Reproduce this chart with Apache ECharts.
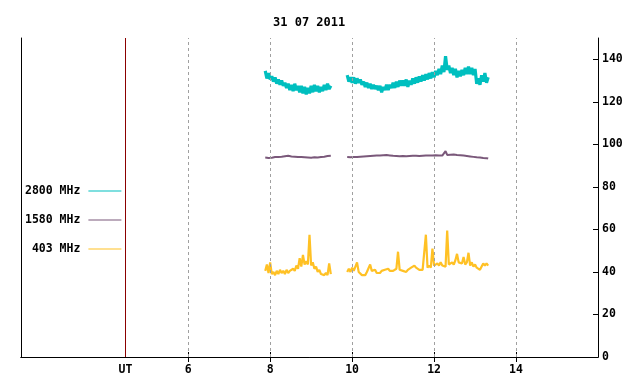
<!DOCTYPE html>
<html>
<head>
<meta charset="utf-8">
<script src="https://cdn.jsdelivr.net/npm/echarts@6/dist/echarts.min.js"></script>
<style>html,body{margin:0;padding:0;background:#fff}#c{width:640px;height:384px}</style>
</head>
<body>
<div id="c"></div>
<script>
// ---- data ----
const titleText = '31 07 2011';
const seriesNames = ['2800 MHz', '1580 MHz', '403 MHz'];
const xTicks = [6, 8, 10, 12, 14];
const yTicks = [0, 20, 40, 60, 80, 100, 120, 140];
const utPosition = 4.47;
const xMin = 1.92, xMax = 16, yMin = 0, yMax = 150;
// sampling: segment 1 starts 7.88 h, segment 2 starts 9.88 h, 0.04 h steps
const seg1Start = 7.88, seg2Start = 9.88, sampleStep = 0.04;

const cyan1 = [134.5,131,133.5,130.5,132,129.5,131.5,128.5,130.5,128,130,127.5,129,126.5,128.5,125.5,128,125,128.5,125.5,127.5,124.5,127.5,124,127,123.5,126.5,124,127.5,124.5,128,125,127.5,124.5,127,125,128,125.5,128.5,126,127.5];
const cyan2 = [132.5,129.5,131.5,129,131.5,128.5,131,129,130.5,128,129.5,127,129,126.5,128.5,126,128,126,127.5,125.5,127.5,124.5,127,125.5,128,125.5,128,126.5,129,126.5,129.5,127,130,127.5,130,127.5,130.5,127,130,128,131,128.5,131.5,129,132,129.5,132.5,130,133,130.5,133.5,131,134,131.5,134.5,132.5,135.5,133,137,134,141.5,135,137,133.5,136,132.5,135.5,131.5,134.5,132,135,132.5,136,133,136.5,133,136,132.5,135.5,128.5,131,128,132.5,129.5,133.5,129,131.5];

const purple1 = [93.8,93.2,93.6,93.0,93.7,93.3,94.0,93.5,94.1,93.6,94.2,93.8,94.4,93.9,94.6,94.0,94.3,93.8,94.2,93.6,94.1,93.5,94.0,93.4,93.9,93.3,93.8,93.2,93.7,93.4,93.9,93.3,93.8,93.5,94.0,93.6,94.2,93.8,94.5,94.0,94.6];
const purple2 = [94.0,94.3,93.9,94.4,94.0,94.5,94.1,94.6,94.2,94.7,94.3,94.8,94.4,94.9,94.5,95.0,94.6,95.1,94.7,95.3,94.8,95.4,94.9,95.5,95.0,95.3,94.8,95.1,94.6,95.0,94.5,94.9,94.4,94.8,94.5,94.9,94.4,94.8,94.5,94.9,94.6,95.0,94.6,95.0,94.5,94.9,94.6,95.0,94.7,95.1,94.8,95.2,94.8,95.1,94.9,95.2,94.8,95.1,94.7,95.0,96.8,95.0,94.7,95.1,94.8,95.2,94.7,95.0,94.5,94.9,94.3,94.7,94.1,94.5,93.9,94.3,93.7,94.1,93.5,93.9,93.4,93.8,93.2,93.6,93.1,93.5,93.3];

const orange1 = [40.5,43.5,39.5,44.5,39,40,38.5,40.5,39,41,39.5,40.5,39,41,39.5,40.5,40,41.5,40.5,43,41.5,46.5,42.5,48,43.5,45,43.5,57.5,43,44.5,41.5,42.5,40,41,39,39.5,38.5,39.5,38.5,44,39];
const orange2 = [40,41.5,40,42,40.5,42.5,44.5,40,39.5,38.5,39,38.5,40,39.5,43.5,40.5,40,41,39.5,40,39.5,40.5,40,41,40.5,41.5,40.5,41,40.5,41,41.5,49.5,41,41.5,40.5,41,40,41,40.5,42,41.5,43,42,42.5,41,40.5,41,40.5,57.5,42,43,42,51,43,42.5,44,43,44.5,43,43.5,42.5,59.5,43.5,43,44.5,43.5,45.5,48.5,44.5,45,44,47,43.5,44.5,49,43,44.5,42.5,43.5,42,41.5,41,42.5,44,43,44,43];

const colors = ['#00bfbf', '#7a587a', '#ffc125'];
const widths = [3.2, 2, 2.2];

// ---- build ----
function build(a, b) {
  const out = [];
  a.forEach((v, i) => out.push([seg1Start + i * sampleStep, v]));
  out.push([(seg1Start + a.length * sampleStep + seg2Start) / 2, '-']);
  b.forEach((v, i) => out.push([seg2Start + i * sampleStep, v]));
  return out;
}
const font = 'DejaVu Sans Mono';
const txt = { fontFamily: font, fontWeight: 'bold', fontSize: 11.5, color: '#000' };

const chart = echarts.init(document.getElementById('c'), null, { renderer: 'canvas' });
const seriesData = [build(cyan1, cyan2), build(purple1, purple2), build(orange1, orange2)];

const series = seriesNames.map((n, k) => ({
  name: n, type: 'line', data: seriesData[k], symbol: 'none', showSymbol: false,
  connectNulls: false, animation: false, yAxisIndex: 0,
  lineStyle: { color: colors[k], width: widths[k], join: 'bevel' }, itemStyle: { color: colors[k] },
  z: 3
}));
series.push({
  type: 'line', data: [], yAxisIndex: 0, silent: true, animation: false,
  markLine: {
    silent: true, symbol: 'none', animation: false, label: { show: false },
    data: xTicks.map(t => ({ xAxis: t, lineStyle: { color: '#a0a0a0', type: [3, 3], width: 1 } }))
      .concat([{ xAxis: utPosition, lineStyle: { color: '#8b0000', type: 'solid', width: 1 } }])
  }
});

chart.setOption({
  animation: false,
  backgroundColor: '#fff',
  title: { text: titleText, left: 268, top: 12, textStyle: Object.assign({}, txt, { fontSize: 12 }) },
  legend: {
    data: seriesNames, orient: 'vertical', left: 20, top: 180, align: 'right',
    icon: 'path://M0,0H33V1H0Z', symbolKeepAspect: true,
    itemWidth: 33, itemHeight: 14, itemGap: 17, selectedMode: false,
    formatter: n => n.length < 8 ? ' ' + n : n,
    textStyle: Object.assign({}, txt, { padding: [0, 3, 0, 0] })
  },
  grid: { left: 21, right: 42, top: 38, bottom: 27, show: false },
  xAxis: [
    {
      type: 'value', position: 'bottom', min: xMin, max: xMax,
      axisLine: { show: true, lineStyle: { color: '#000', width: 1 } },
      axisTick: { show: true, inside: true, length: 5, customValues: xTicks, lineStyle: { color: '#000' } },
      axisLabel: { show: true, customValues: [utPosition].concat(xTicks), margin: 7,
        formatter: v => (Math.abs(v - utPosition) < 0.01 ? 'UT' : String(Math.round(v))), ...txt },
      splitLine: { show: false }
    },
    {
      type: 'value', position: 'top', min: xMin, max: xMax,
      axisLine: { show: true, lineStyle: { color: '#000', width: 1 } },
      axisTick: { show: true, inside: true, length: 5, customValues: xTicks, lineStyle: { color: '#000' } },
      axisLabel: { show: false }, splitLine: { show: false }
    }
  ],
  yAxis: [
    {
      type: 'value', position: 'right', min: yMin, max: yMax,
      axisLine: { show: true, lineStyle: { color: '#000', width: 1 } },
      axisTick: { show: true, inside: true, length: 5, customValues: yTicks, lineStyle: { color: '#000' } },
      axisLabel: { show: true, customValues: yTicks, margin: 4, ...txt },
      splitLine: { show: false }
    },
    {
      type: 'value', position: 'left', min: yMin, max: yMax,
      axisLine: { show: true, lineStyle: { color: '#000', width: 1 } },
      axisTick: { show: false }, axisLabel: { show: false }, splitLine: { show: false }
    }
  ],
  series: series
});
</script>
</body>
</html>
